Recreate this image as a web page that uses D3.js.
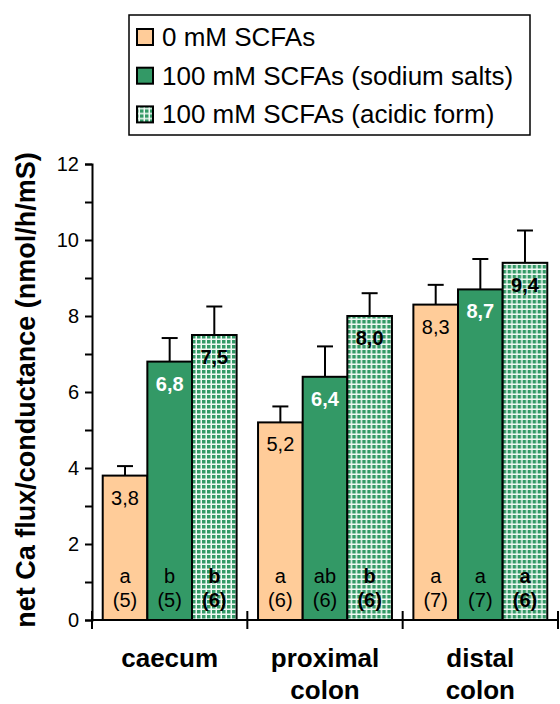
<!DOCTYPE html>
<html>
<head>
<meta charset="utf-8">
<script src="https://cdn.jsdelivr.net/npm/d3@7"></script>
<style>
  body { margin: 0; background: #fff; }
  svg { font-family: "Liberation Sans", Arial, sans-serif; }
</style>
</head>
<body>
<svg id="container" width="560" height="704"></svg>
<script>
// chart data
const regions = ["caecum", "proximal colon", "distal colon"];
const series = ["0 mM SCFAs", "100 mM SCFAs (sodium salts)", "100 mM SCFAs (acidic form)"];
const ctrl = [3.8, 5.2, 8.3];
const sodium = [6.8, 6.4, 8.7];
const acidic = [7.5, 8.0, 9.4];
const ctrlErr = [0.25, 0.42, 0.52];
const sodiumErr = [0.62, 0.8, 0.8];
const acidicErr = [0.75, 0.6, 0.85];
const ctrlLetter = ["a", "a", "a"];
const sodiumLetter = ["b", "ab", "a"];
const acidicLetter = ["b", "b", "a"];
const ctrlN = [5, 6, 7];
const sodiumN = [5, 6, 7];
const acidicN = [6, 6, 6];
const yTicks = [0, 2, 4, 6, 8, 10, 12];

const fmt = v => v.toFixed(1).replace(".", ",");

const svg = d3.select('#container');

// checkered fill for the acidic form
const defs = svg.append('defs');
const pat = defs.append('pattern')
    .attr('id', 'grid')
    .attr('patternUnits', 'userSpaceOnUse')
    .attr('width', 5).attr('height', 5);
pat.append('rect').attr('width', 5).attr('height', 5).attr('fill', '#339966');
pat.append('rect').attr('x', 3.5).attr('width', 1.5).attr('height', 5).attr('fill', '#f2faf5');
pat.append('rect').attr('y', 3.5).attr('width', 5).attr('height', 1.5).attr('fill', '#f2faf5');

const fills = ['#FFCC99', '#339966', 'url(#grid)'];

const rows = [];
regions.forEach((r, i) => {
  rows.push({region: r, s: 0, v: ctrl[i], e: ctrlErr[i], l: ctrlLetter[i], n: ctrlN[i]});
  rows.push({region: r, s: 1, v: sodium[i], e: sodiumErr[i], l: sodiumLetter[i], n: sodiumN[i]});
  rows.push({region: r, s: 2, v: acidic[i], e: acidicErr[i], l: acidicLetter[i], n: acidicN[i]});
});

const x0 = d3.scaleBand().domain(regions).range([92, 558]).padding(0);
const x1 = d3.scaleBand().domain([0, 1, 2]).range([0, x0.bandwidth()])
    .paddingInner(0).paddingOuter(0.24);
const y = d3.scaleLinear().domain([0, 12]).range([620, 164]);

// bars
const g = svg.append('g');
const bars = g.selectAll('g.bar')
    .data(rows)
    .enter()
    .append('g')
    .attr('transform', d => `translate(${x0(d.region) + x1(d.s)},0)`);

// error bars (upper only)
bars.append('line')
    .attr('x1', x1.bandwidth() / 2).attr('x2', x1.bandwidth() / 2)
    .attr('y1', d => y(d.v)).attr('y2', d => y(d.v + d.e))
    .attr('stroke', '#000').attr('stroke-width', 2);
bars.append('line')
    .attr('x1', x1.bandwidth() / 2 - 8).attr('x2', x1.bandwidth() / 2 + 8)
    .attr('y1', d => y(d.v + d.e)).attr('y2', d => y(d.v + d.e))
    .attr('stroke', '#000').attr('stroke-width', 2);

bars.append('rect')
    .attr('x', 0)
    .attr('y', d => y(d.v))
    .attr('width', x1.bandwidth())
    .attr('height', d => y(0) - y(d.v))
    .attr('fill', d => fills[d.s])
    .attr('stroke', '#000')
    .attr('stroke-width', 2);

// value labels
bars.append('text')
    .attr('x', x1.bandwidth() / 2)
    .attr('y', d => y(d.v) + 29)
    .attr('text-anchor', 'middle')
    .attr('font-size', 20)
    .attr('font-weight', d => d.s === 0 ? 'normal' : 'bold')
    .attr('fill', d => d.s === 1 ? '#fff' : '#000')
    .text(d => fmt(d.v));

// significance letters and n
bars.append('text')
    .attr('x', x1.bandwidth() / 2)
    .attr('y', 583)
    .attr('text-anchor', 'middle')
    .attr('font-size', 20)
    .attr('font-weight', d => d.s === 2 ? 'bold' : 'normal')
    .text(d => d.l);
bars.append('text')
    .attr('x', x1.bandwidth() / 2)
    .attr('y', 607)
    .attr('text-anchor', 'middle')
    .attr('font-size', 20)
    .attr('font-weight', d => d.s === 2 ? 'bold' : 'normal')
    .text(d => `(${d.n})`);

// y axis
const yAxis = svg.append('g')
    .attr('transform', 'translate(92,0)')
    .call(d3.axisLeft(y).tickValues(d3.range(0, 13, 1)).tickSize(7).tickSizeOuter(7)
        .tickFormat(d => yTicks.includes(d) ? d : ''));
yAxis.selectAll('path, line').attr('stroke', '#000').attr('stroke-width', 2);
yAxis.selectAll('text').attr('font-size', 20).attr('fill', '#000')
    .attr('font-family', '"Liberation Sans", Arial, sans-serif').attr('x', -13);

// x axis with crossing ticks at the region boundaries
const bounds = [92].concat(regions.map(r => x0(r) + x0.bandwidth()));
svg.append('line')
    .attr('x1', 92).attr('x2', 558).attr('y1', y(0)).attr('y2', y(0))
    .attr('stroke', '#000').attr('stroke-width', 2);
svg.selectAll('line.xt')
    .data(bounds)
    .enter()
    .append('line')
    .attr('x1', d => d).attr('x2', d => d)
    .attr('y1', y(0) - 9).attr('y2', y(0) + 9)
    .attr('stroke', '#000').attr('stroke-width', 2);

// region labels
const catLines = regions.map(r => r.split(' '));
svg.selectAll('text.cat')
    .data(regions)
    .enter()
    .append('text')
    .attr('text-anchor', 'middle')
    .attr('font-size', 26)
    .attr('font-weight', 'bold')
    .attr('x', d => x0(d) + x0.bandwidth() / 2)
    .attr('y', 667)
    .selectAll('tspan')
    .data((d, i) => catLines[i])
    .enter()
    .append('tspan')
    .attr('x', function() { return d3.select(this.parentNode).attr('x'); })
    .attr('dy', (d, i) => i === 0 ? 0 : 32)
    .text(d => d);

// y title
svg.append('text')
    .attr('transform', 'translate(35,390) rotate(-90)')
    .attr('text-anchor', 'middle')
    .attr('font-size', 27)
    .attr('font-weight', 'bold')
    .text('net Ca flux/conductance (nmol/h/mS)');

// legend
const legend = svg.append('g');
legend.append('rect')
    .attr('x', 129).attr('y', 15).attr('width', 401).attr('height', 120)
    .attr('fill', '#fff').attr('stroke', '#000').attr('stroke-width', 1.5);
const items = legend.selectAll('g.item')
    .data(series)
    .enter()
    .append('g')
    .attr('transform', (d, i) => `translate(0,${37 + i * 38.7})`);
items.append('rect')
    .attr('x', 137).attr('y', -8).attr('width', 16).attr('height', 16)
    .attr('fill', (d, i) => fills[i])
    .attr('stroke', '#000').attr('stroke-width', 2);
items.append('text')
    .attr('x', 162).attr('y', 9)
    .attr('font-size', 26)
    .text(d => d);
</script>
</body>
</html>
